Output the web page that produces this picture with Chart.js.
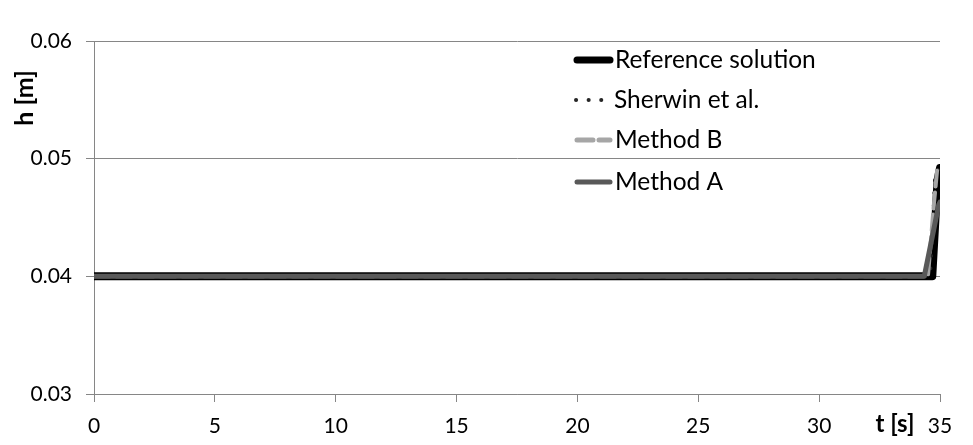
<!DOCTYPE html>
<html>
<head>
<meta charset="utf-8">
<script src="https://cdn.jsdelivr.net/npm/chart.js@4.4.0/dist/chart.umd.min.js"></script>
<style>
  html, body { margin: 0; padding: 0; background: #fff; }
  #chart { display: block; }
</style>
</head>
<body>
<canvas id="chart" width="973" height="445"></canvas>
<script>
// --- data (t in s, h in m) ---
const seriesNames = ["Reference solution", "Sherwin et al.", "Method B", "Method A"];
const refT = [0, 34.68, 34.9, 35];
const refH = [0.04, 0.04, 0.0482, 0.0492];
const sherT = [0, 34.6, 34.8, 35];
const sherH = [0.04, 0.04, 0.0490, 0.0491];
const methBT = [0, 34.5, 34.75, 34.88, 35];
const methBH = [0.04, 0.04, 0.0462, 0.0490, 0.0492];
const methAT = [0, 34.35, 34.95, 35];
const methAH = [0.04, 0.04, 0.0461, 0.0463];
const xTicks = [0, 5, 10, 15, 20, 25, 30, 35];
const yTicks = ["0.03", "0.04", "0.05", "0.06"];

const pts = (ts, hs) => ts.map((t, i) => ({ x: t, y: hs[i] }));

const colors = ["#000000", "#262626", "#a6a6a6", "#595959"];
const widths = [8, 3.5, 4, 5];          // plot line widths
const legendWidths = [7, 4, 5, 5];      // legend sample widths
const dashes = [[], [0.1, 12.5], [16, 6], []];

const FONT = "Lato";

// legend + axis titles drawn inside the plot like the original
const extras = {
    id: "extras",
    afterDraw(chart) {
        const ctx = chart.ctx;
        ctx.save();
        // legend
        const rows = [60, 100, 140, 182];
        seriesNames.forEach((name, i) => {
            ctx.beginPath();
            ctx.strokeStyle = colors[i];
            ctx.lineWidth = legendWidths[i];
            ctx.lineCap = "round";
            ctx.setLineDash(dashes[i]);
            if (i == 1) {
                ctx.moveTo(576, rows[i]);
                ctx.lineTo(602, rows[i]);
            } else {
                ctx.moveTo(577, rows[i]);
                ctx.lineTo(610, rows[i]);
            }
            ctx.stroke();
            ctx.setLineDash([]);
            ctx.fillStyle = "#000";
            ctx.font = "24.5px " + FONT;
            ctx.textBaseline = "middle";
            ctx.textAlign = "left";
            ctx.fillText(name, i == 1 ? 614 : 615, rows[i]);
        });
        // x title
        ctx.font = "bold 24px " + FONT;
        ctx.textAlign = "center";
        ctx.fillText("t [s]", 895, 424);
        // y title
        ctx.font = "bold 25px " + FONT;
        ctx.translate(25, 98);
        ctx.rotate(-Math.PI / 2);
        ctx.fillText("h [m]", 0, 0);
        ctx.restore();
    }
};

const chart = new Chart(document.getElementById("chart"), {
    type: "line",
    data: {
        datasets: [
            [refT, refH], [sherT, sherH], [methBT, methBH], [methAT, methAH]
        ].map((s, i) => ({
            label: seriesNames[i],
            data: pts(s[0], s[1]),
            borderColor: colors[i],
            borderWidth: widths[i],
            borderDash: dashes[i],
            borderCapStyle: "round",
            borderJoinStyle: "round",
            pointRadius: 0,
            tension: 0,
            fill: false,
            order: 3 - i
        }))
    },
    options: {
        responsive: false,
        animation: false,
        layout: { padding: { top: 41, right: 33, left: 0, bottom: 0 } },
        plugins: { legend: { display: false }, tooltip: { enabled: false } },
        scales: {
            x: {
                type: "linear",
                min: 0,
                max: 35,
                afterBuildTicks: (s) => { s.ticks = xTicks.map(v => ({ value: v })); },
                afterFit: (s) => { s.height = 51; },
                grid: { drawOnChartArea: false, color: "#868686", tickLength: 8 },
                border: { color: "#868686" },
                ticks: { color: "#000", font: { family: FONT, size: 21 }, padding: 12, maxRotation: 0 }
            },
            y: {
                min: 0.03,
                max: 0.06,
                afterBuildTicks: (s) => { s.ticks = yTicks.map(v => ({ value: parseFloat(v) })); },
                afterFit: (s) => { s.width = 94; },
                grid: { color: "#868686", tickLength: 8 },
                border: { color: "#868686" },
                ticks: {
                    color: "#000",
                    font: { family: FONT, size: 21 },
                    padding: 14,
                    callback: (v) => yTicks.find(t => parseFloat(t) == v)
                }
            }
        }
    },
    plugins: [extras]
});
</script>
</body>
</html>
